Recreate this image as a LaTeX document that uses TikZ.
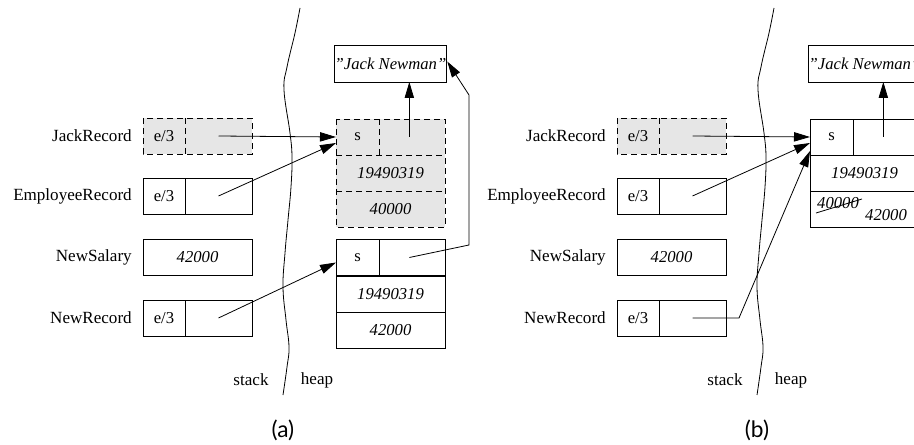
\documentclass[tikz,border=0pt]{standalone}
\usepackage{fontspec}
\setmainfont{Liberation Serif}
\newfontfamily\capfont{Lato}
\usetikzlibrary{arrows.meta,calc}
\definecolor{cellgray}{HTML}{E6E6E6}
\tikzset{
  cell/.style={draw, line width=0.6pt, inner sep=0pt, outer sep=0pt, minimum height=27pt, font=\fontsize{12.5}{14}\selectfont},
  gcell/.style={cell, draw=none, fill=cellgray},
  sw/.style={minimum width=31.5pt},
  pw/.style={minimum width=50.25pt},
  fw/.style={minimum width=81.75pt},
  hs/.style={minimum width=32.25pt},
  hp/.style={minimum width=49.5pt},
  lab/.style={anchor=east, inner sep=0pt, font=\fontsize{12.8}{14}\selectfont},
  txt/.style={inner sep=0pt, font=\fontsize{12.8}{14}\selectfont},
  dsh/.style={line width=0.6pt, dash pattern=on 4.5pt off 3pt},
  arr/.style={line width=0.6pt, -{Triangle[length=12pt,width=7pt]}},
  wall/.style={line width=0.6pt},
}
\begin{document}
\begin{tikzpicture}[x=0.75pt,y=-0.75pt]
\clip (0,0) rectangle (914,445);
\fill[white] (0,0) rectangle (914,445);

% ================= panel (a) =================
% stack
\node[gcell,sw] (jrAe) at (164,136) {e/3};
\node[gcell,pw] (jrAp) at (218.5,136) {};
\draw[dsh] (jrAe.north west) rectangle (jrAp.south east);
\draw[dsh] (jrAe.north east) -- (jrAe.south east);
\node[lab] (jrAl) at ($(jrAe.west)+(-11,0)$) {JackRecord};

\node[cell,sw] (erAe) at (164,196) {e/3};
\node[cell,pw] (erAp) at (218.5,196) {};
\node[lab] (erAl) at ($(erAe.west)+(-11,0)$) {EmployeeRecord};

\node[cell,fw] (nsA) at (197.5,257) {\itshape 42000};
\node[lab] (nsAl) at ($(nsA.west)+(-11,0)$) {NewSalary};

\node[cell,sw] (nrAe) at (164,318) {e/3};
\node[cell,pw] (nrAp) at (218.5,318) {};
\node[lab] (nrAl) at ($(nrAe.west)+(-11,0)$) {NewRecord};

% wall
\draw[wall] plot[smooth, tension=0.7] coordinates {(300,8) (295,33) (287,67) (284,90) (290,133) (292,157) (291,187) (288,220) (285,253) (283,287) (286,320) (289,347) (287,367) (283,395)};
\node[txt] (stA) at (251,380) {stack};
\node[txt] (hpA) at (317,380) {heap};
\node[txt, font=\capfont\fontsize{17}{19}\selectfont] (capA) at (283,430) {(a)};

% heap
\node[cell,fw,minimum height=27.75pt] (jnA) at (390.5,63.5) {\itshape "Jack Newman"};

\node[gcell,hs] (ohAs) at (357.5,137) {s};
\node[gcell,hp] (ohAp) at (412,137) {};
\node[gcell,fw] (ohA2) at (390.5,173) {\itshape 19490319};
\node[gcell,fw] (ohA3) at (390.5,209) {\itshape 40000};
\draw[dsh] (ohAs.north west) rectangle (ohA3.south east);
\draw[dsh] (ohA2.north west) -- (ohA2.north east);
\draw[dsh] (ohA3.north west) -- (ohA3.north east);
\draw[dsh] (ohAs.north east) -- (ohAs.south east);

\node[cell,hs] (nhAs) at (357.5,257.5) {s};
\node[cell,hp] (nhAp) at (412,257.5) {};
\node[cell,fw] (nhA2) at (390.5,294) {\itshape 19490319};
\node[cell,fw] (nhA3) at (390.5,330) {\itshape 42000};

% arrows (a)
\draw[arr] (jrAp.center) -- (ohAs.west);
\draw[arr] (erAp.center) -- ($(ohAs.west)+(0,6)$);
\draw[arr] (nrAp.center) -- ($(nhAs.west)+(0,5)$);
\draw[arr] ([xshift=-2pt]ohAp.center) -- ([xshift=-2pt]ohAp.center |- jnA.south);
\coordinate (bendA1) at (469,245);
\coordinate (bendA2) at (469,95);
\draw[arr] ([xshift=-2pt]nhAp.center) -- (bendA1) -- (bendA2) -- ($(jnA.east)+(1,-2)$);

% ================= panel (b) =================
\node[gcell,sw] (jrBe) at (638,136) {e/3};
\node[gcell,pw] (jrBp) at (692.5,136) {};
\draw[dsh] (jrBe.north west) rectangle (jrBp.south east);
\draw[dsh] (jrBe.north east) -- (jrBe.south east);
\node[lab] (jrBl) at ($(jrBe.west)+(-11,0)$) {JackRecord};

\node[cell,sw] (erBe) at (638,196) {e/3};
\node[cell,pw] (erBp) at (692.5,196) {};
\node[lab] (erBl) at ($(erBe.west)+(-11,0)$) {EmployeeRecord};

\node[cell,fw] (nsB) at (671.5,257) {\itshape 42000};
\node[lab] (nsBl) at ($(nsB.west)+(-11,0)$) {NewSalary};

\node[cell,sw] (nrBe) at (638,318) {e/3};
\node[cell,pw] (nrBp) at (692.5,318) {};
\node[lab] (nrBl) at ($(nrBe.west)+(-11,0)$) {NewRecord};

\draw[wall, xshift=355.5pt] plot[smooth, tension=0.7] coordinates {(300,8) (295,33) (287,67) (284,90) (290,133) (292,157) (291,187) (288,220) (285,253) (283,287) (286,320) (289,347) (287,367) (283,395)};
\node[txt] (stB) at (725,380) {stack};
\node[txt] (hpB) at (791,380) {heap};
\node[txt, font=\capfont\fontsize{17}{19}\selectfont] (capB) at (757,430) {(b)};

\node[cell,fw,minimum height=27.75pt] (jnB) at (864.5,63.5) {\itshape "Jack Newman"};
\node[cell,hs] (hBs) at (831.5,137) {s};
\node[cell,hp] (hBp) at (886,137) {};
\node[cell,fw] (hB2) at (864.5,173) {\itshape 19490319};
\node[cell,fw] (hB3) at (864.5,209) {};
\node[txt, font=\itshape\fontsize{12.5}{14}\selectfont] (oldB) at (838,203) {40000};
\node[txt, font=\itshape\fontsize{12.5}{14}\selectfont] (newB) at (886,215) {42000};
\draw[line width=0.6pt] (816,213) -- (862,199);

\draw[arr] (jrBp.center) -- (hBs.west);
\draw[arr] (erBp.center) -- ($(hBs.west)+(0,6)$);
\coordinate (bendB) at (739,318);
\draw[arr] (nrBp.center) -- (bendB) -- ($(hBs.south west)+(0,-4)$);
\draw[arr] ([xshift=-2pt]hBp.center) -- ([xshift=-2pt]hBp.center |- jnB.south);
\end{tikzpicture}
\end{document}
